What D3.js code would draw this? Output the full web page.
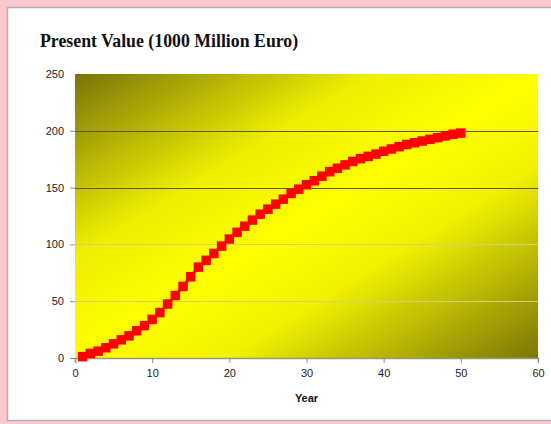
<!DOCTYPE html>
<html>
<head>
<meta charset="utf-8">
<script src="https://cdn.jsdelivr.net/npm/d3@7"></script>
<style>
  html, body { margin: 0; padding: 0; background: #fbc8cc; }
  #chart { width: 551px; height: 424px; }
</style>
</head>
<body>
<div id="chart"></div>
<script>
// data
const years = d3.range(1, 51);
const presentValue = [
  1.2, 4, 6, 9, 12.5, 16, 19.5, 24, 28.5, 34,
  40, 47.5, 55, 63, 71.5, 80, 86, 92, 98.5, 104.7,
  110.6, 116, 121.4, 126.6, 131, 135.4, 139.8, 144.8, 148.6, 152.5,
  156, 160, 164, 167, 170, 173, 175.5, 177.5, 179.5, 182,
  184, 186, 188, 189.5, 191, 192.5, 194, 195.5, 197, 198
];
const xTicks = [0, 10, 20, 30, 40, 50, 60];
const yTicks = [0, 50, 100, 150, 200, 250];

const width = 551, height = 424;
const plot = {left: 75, right: 538, top: 74, bottom: 358};

let svg = d3.select("#chart")
  .append("svg")
  .attr("width", width)
  .attr("height", height);

// white panel with border
svg.append("rect")
  .attr("x", 7.5).attr("y", 7.5)
  .attr("width", 560).attr("height", 413)
  .attr("fill", "#fff")
  .attr("stroke", "#b4b4b4")
  .attr("stroke-width", 1.5);

// scales
let x = d3.scaleLinear().domain([0, 60]).range([plot.left, plot.right]);
let y = d3.scaleLinear().domain([0, 250]).range([plot.bottom, plot.top]);

// diagonal gradient: olive corners, yellow middle
let grad = svg.append("defs")
  .append("linearGradient")
  .attr("id", "bgGradient")
  .attr("x1", "0%").attr("y1", "0%")
  .attr("x2", "100%").attr("y2", "100%");
grad.selectAll("stop")
  .data([
    {offset: "0%", color: "#78740a"},
    {offset: "32%", color: "#eeee00"},
    {offset: "50%", color: "#ffff00"},
    {offset: "66%", color: "#f2f200"},
    {offset: "100%", color: "#7a7608"}
  ])
  .enter().append("stop")
  .attr("offset", d => d.offset)
  .attr("stop-color", d => d.color);

svg.append("rect")
  .attr("x", x(0)).attr("y", y(250))
  .attr("width", x(60) - x(0))
  .attr("height", y(0) - y(250))
  .attr("fill", "url(#bgGradient)");

// gridlines
svg.append("g")
  .selectAll("line")
  .data(yTicks.filter(d => d > 0 && d < 250))
  .enter().append("line")
  .attr("x1", x(0)).attr("x2", x(60))
  .attr("y1", d => Math.round(y(d)) + 0.5)
  .attr("y2", d => Math.round(y(d)) + 0.5)
  .attr("stroke", d => d >= 150 ? "#5e5a2e" : "#d8cf6a")
  .attr("stroke-width", 1);

// y axis (ticks only)
let yAxis = svg.append("g")
  .attr("transform", `translate(${x(0)},0)`)
  .call(d3.axisLeft(y).tickValues(yTicks).tickSize(5).tickPadding(6));
yAxis.select(".domain").attr("display", "none");
yAxis.selectAll("line").attr("stroke", "#8c8c8c");
yAxis.selectAll("text")
  .style("font-family", "Arial, 'Liberation Sans', sans-serif")
  .style("font-size", "11px")
  .attr("fill", "#222");
yAxis.selectAll(".tick")
  .filter(d => d === 250)
  .select("line").attr("display", "none");

// x axis
let xAxis = svg.append("g")
  .attr("transform", `translate(0,${y(0)})`)
  .call(d3.axisBottom(x).tickValues(xTicks).tickSize(5).tickPadding(6));
xAxis.select(".domain").attr("stroke", "#9a9a7a").attr("stroke-width", 1.5);
xAxis.selectAll("line").attr("stroke", "#8c8c8c");
xAxis.selectAll("text")
  .style("font-family", "Arial, 'Liberation Sans', sans-serif")
  .style("font-size", "11px")
  .attr("fill", "#222");

// series line and markers
let pts = years.map((d, i) => ({year: d, value: presentValue[i]}));

svg.append("path")
  .datum(pts)
  .attr("fill", "none")
  .attr("stroke", "#ff0000")
  .attr("stroke-width", 3)
  .attr("d", d3.line().x(d => x(d.year)).y(d => y(d.value)));

const m = 9.5;
svg.append("g")
  .selectAll("rect")
  .data(pts)
  .enter().append("rect")
  .attr("x", d => x(d.year) - m / 2)
  .attr("y", d => y(d.value) - m / 2)
  .attr("width", m).attr("height", m)
  .attr("fill", "#ff0000");

// title
svg.append("text")
  .attr("x", 40).attr("y", 47)
  .style("font-family", "'Times New Roman', 'Liberation Serif', serif")
  .style("font-size", "17.8px")
  .style("font-weight", "bold")
  .attr("fill", "#111")
  .text("Present Value (1000 Million Euro)");

// x label
svg.append("text")
  .attr("x", x(30)).attr("y", 402)
  .attr("text-anchor", "middle")
  .style("font-family", "Arial, 'Liberation Sans', sans-serif")
  .style("font-size", "11px")
  .style("font-weight", "bold")
  .attr("fill", "#111")
  .text("Year");
</script>
</body>
</html>
